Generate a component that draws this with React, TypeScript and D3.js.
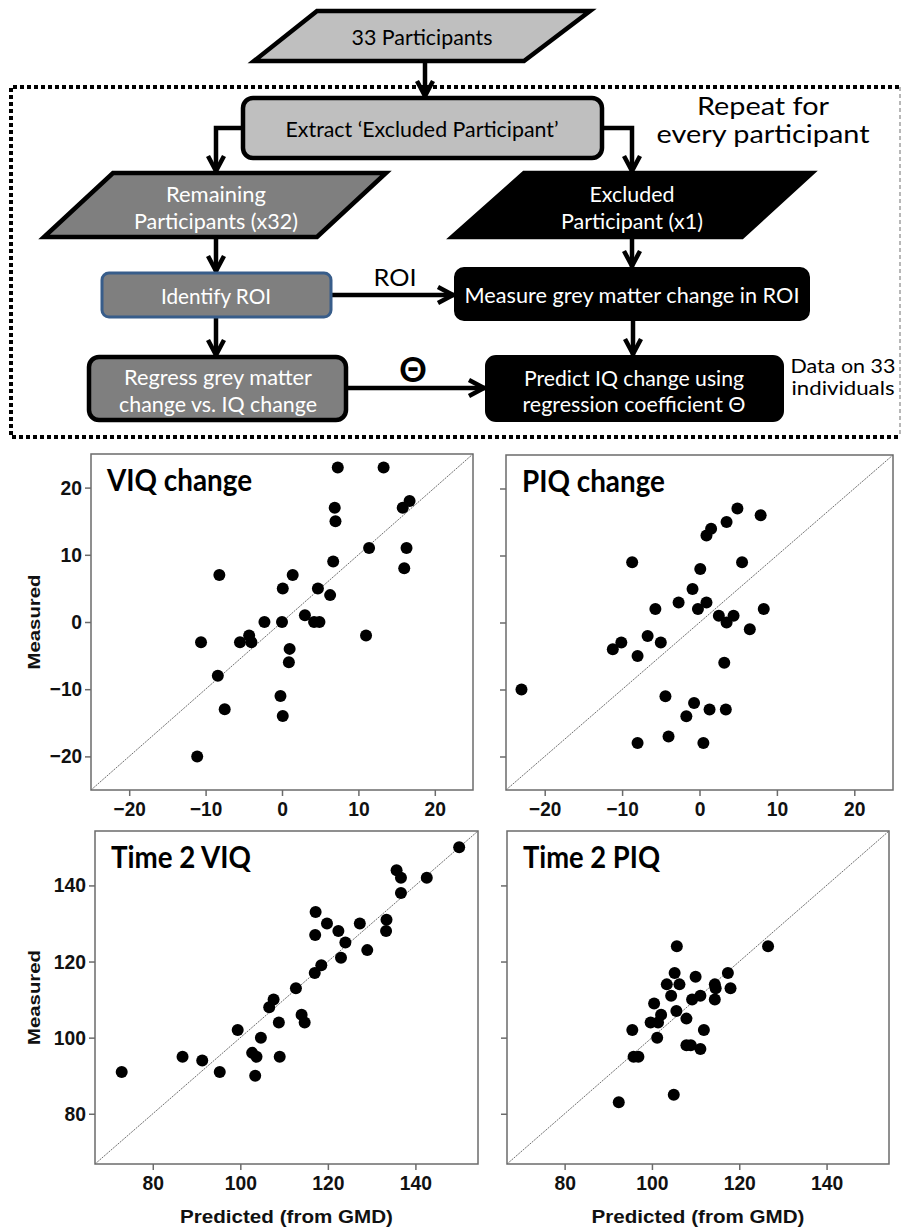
import React, { useEffect, useRef } from 'react';
import * as d3 from 'd3';

// ---- data (predicted from GMD vs measured) ----
const changeTicks = [-20, -10, 0, 10, 20];
const time2Ticks = [80, 100, 120, 140];

const viqChangePredicted = [7.3, 13.3, 6.9, 7.0, 15.8, 16.7, 11.4, 16.3, 16.0, 6.7, -8.2, 1.4, 0.1, 4.7, 6.3, 3.0, 4.2, 4.9, -2.3, 0.0, 11.0, -10.6, -5.5, -4.3, -4.0, 1.0, 0.9, -8.4, -0.2, -7.5, 0.1, -11.1];
const viqChangeMeasured = [23, 23, 17, 15, 17, 18, 11, 11, 8, 9, 7, 7, 5, 5, 4, 1, 0, 0, 0, 0, -2, -3, -3, -2, -3, -4, -6, -8, -11, -13, -14, -20];

const piqChangePredicted = [4.9, 7.9, 3.5, 1.5, 0.9, -8.7, 5.5, 0.1, -0.9, -2.7, 0.9, -0.2, -5.7, 8.3, 2.5, 4.4, 3.5, 6.5, -10.1, -11.2, -6.7, -5.0, -8.0, 3.2, -23.0, -4.4, -0.7, 1.3, 3.4, -1.7, -8.0, -4.0, 0.5];
const piqChangeMeasured = [17, 16, 15, 14, 13, 9, 9, 8, 5, 3, 3, 2, 2, 2, 1, 1, 0, -1, -3, -4, -2, -3, -5, -6, -10, -11, -12, -13, -13, -14, -18, -17, -18];

const viqTime2Predicted = [150.0, 135.7, 136.7, 142.6, 136.7, 117.2, 119.8, 127.3, 133.4, 122.4, 133.3, 117.1, 124.0, 129.0, 123.0, 118.5, 117.0, 112.7, 107.6, 106.6, 114.0, 114.7, 108.8, 99.4, 104.7, 102.7, 103.7, 109.0, 86.8, 91.3, 95.3, 72.9, 103.4];
const viqTime2Measured = [150, 144, 142, 142, 138, 133, 130, 130, 131, 128, 128, 127, 125, 123, 121, 119, 117, 113, 110, 108, 106, 104, 104, 102, 100, 96, 95, 95, 95, 94, 91, 91, 90];

const piqTime2Predicted = [105.7, 126.6, 105.2, 117.4, 110.0, 103.4, 106.3, 114.4, 114.6, 118.0, 104.4, 111.1, 109.2, 114.4, 100.5, 105.6, 102.1, 107.9, 99.7, 101.4, 95.5, 111.9, 101.2, 107.9, 108.9, 111.1, 95.8, 96.9, 105.0, 92.4];
const piqTime2Measured = [124, 124, 117, 117, 116, 114, 114, 114, 113, 113, 111, 111, 110, 110, 109, 107, 106, 105, 104, 104, 102, 102, 100, 98, 98, 97, 95, 95, 85, 83];

const FLOW_FONT = 'Lato, "Open Sans", sans-serif';
const AXIS_FONT = '"Liberation Sans", Arial, sans-serif';

const panels = [
    { title: 'VIQ change', titleLen: 145, predicted: viqChangePredicted, measured: viqChangeMeasured, domain: [-25, 25], ticks: changeTicks, left: 91, right: 473, top: 454, bottom: 790, yLabels: true, xTitle: false },
    { title: 'PIQ change', titleLen: 143, predicted: piqChangePredicted, measured: piqChangeMeasured, domain: [-25, 25], ticks: changeTicks, left: 506, right: 893, top: 455, bottom: 790, yLabels: false, xTitle: false },
    { title: 'Time 2 VIQ', titleLen: 140, predicted: viqTime2Predicted, measured: viqTime2Measured, domain: [66.8, 154.3], ticks: time2Ticks, left: 95, right: 478, top: 831, bottom: 1164, yLabels: true, xTitle: true },
    { title: 'Time 2 PIQ', titleLen: 137, predicted: piqTime2Predicted, measured: piqTime2Measured, domain: [66.8, 154.3], ticks: time2Ticks, left: 507, right: 889, top: 831, bottom: 1164, yLabels: false, xTitle: true },
];

function label(g, x, y, str, size, color, len) {
    const t = g.append('text')
        .attr('x', x)
        .attr('y', y)
        .attr('text-anchor', 'middle')
        .attr('dominant-baseline', 'central')
        .attr('font-family', FLOW_FONT)
        .attr('font-size', size)
        .attr('fill', color)
        .text(str);
    if (len) t.attr('textLength', len).attr('lengthAdjust', 'spacingAndGlyphs');
    return t;
}

// polyline ending in an open chevron head at the last point
function arrow(g, pts) {
    g.append('path')
        .attr('d', d3.line()(pts))
        .attr('fill', 'none')
        .attr('stroke', '#000')
        .attr('stroke-width', 4.5);
    const [x1, y1] = pts[pts.length - 2];
    const [x2, y2] = pts[pts.length - 1];
    const len = Math.hypot(x2 - x1, y2 - y1);
    const ux = (x2 - x1) / len, uy = (y2 - y1) / len;
    const back = 15, half = 8;
    const tipX = x2 - ux * 2, tipY = y2 - uy * 2;
    g.append('path')
        .attr('d', d3.line()([
            [tipX - ux * back - uy * half, tipY - uy * back + ux * half],
            [tipX, tipY],
            [tipX - ux * back + uy * half, tipY - uy * back - ux * half],
        ]))
        .attr('fill', 'none')
        .attr('stroke', '#000')
        .attr('stroke-width', 4.5)
        .attr('stroke-linejoin', 'miter');
}

function shape(g, pts, fill, stroke = '#000', width = 4.5) {
    g.append('path')
        .attr('d', d3.line()(pts) + 'Z')
        .attr('fill', fill)
        .attr('stroke', stroke)
        .attr('stroke-width', width)
        .attr('stroke-linejoin', 'miter');
}

function box(g, x0, y0, x1, y1, fill, stroke = '#000', width = 4.5, r = 10) {
    g.append('rect')
        .attr('x', x0).attr('y', y0)
        .attr('width', x1 - x0).attr('height', y1 - y0)
        .attr('rx', r).attr('ry', r)
        .attr('fill', fill)
        .attr('stroke', stroke)
        .attr('stroke-width', width);
}

function drawFlow(svg) {
    const g = svg.append('g');

    // dotted "repeat" frame: heavy dots on three sides, a faint dashed right edge
    g.append('path')
        .attr('d', 'M899,87 L11,87 L11,437 L899,437')
        .attr('fill', 'none')
        .attr('stroke', '#000')
        .attr('stroke-width', 4)
        .attr('stroke-dasharray', '4,3');
    g.append('line')
        .attr('x1', 900).attr('y1', 87).attr('x2', 900).attr('y2', 437)
        .attr('stroke', '#888')
        .attr('stroke-width', 1.2)
        .attr('stroke-dasharray', '4,3');

    // connectors
    arrow(g, [[425, 61], [425, 98]]);
    arrow(g, [[243, 128], [216, 128], [216, 173]]);
    arrow(g, [[602, 128], [632, 128], [632, 173]]);
    arrow(g, [[216, 237], [216, 273]]);
    arrow(g, [[632, 237], [632, 268]]);
    arrow(g, [[331, 295], [455, 295]]);
    arrow(g, [[216, 317], [216, 357]]);
    arrow(g, [[633, 320], [633, 356]]);
    arrow(g, [[346, 388], [486, 388]]);

    // boxes
    shape(g, [[317, 11], [590, 11], [524, 61], [254, 61]], '#bfbfbf');
    label(g, 422, 36, '33 Participants', 21, '#000', 141);

    box(g, 243, 98, 602, 158, '#bfbfbf');
    label(g, 422, 128, 'Extract \u2018Excluded Participant\u2019', 22, '#000', 273);

    label(g, 763, 105, 'Repeat for', 24.5, '#000', 132);
    label(g, 763, 133, 'every participant', 24.5, '#000', 213);

    shape(g, [[113, 173], [386, 173], [317, 237], [44, 237]], '#7f7f7f');
    label(g, 216, 193, 'Remaining', 21, '#fff', 100);
    label(g, 216, 220, 'Participants (x32)', 21, '#fff', 164);

    shape(g, [[524, 173], [812, 173], [742, 237], [452, 237]], '#000');
    label(g, 632, 193, 'Excluded', 21, '#fff', 85);
    label(g, 632, 220, 'Participant (x1)', 21, '#fff', 142);

    box(g, 102, 273, 331, 317, '#7f7f7f', '#385d8a', 3, 7);
    label(g, 216, 295, 'Identify ROI', 21, '#fff', 110);

    label(g, 395, 276, 'ROI', 24, '#000', 43);

    box(g, 455, 268, 809, 320, '#000', '#000', 2, 9);
    label(g, 632, 294, 'Measure grey matter change in ROI', 21, '#fff', 335);

    box(g, 89, 357, 346, 420, '#7f7f7f');
    label(g, 218, 376, 'Regress grey matter', 21, '#fff', 188);
    label(g, 218, 403, 'change vs. IQ change', 21, '#fff', 198);

    label(g, 413, 368, '\u0398', 34, '#000').attr('font-weight', 'bold');

    box(g, 486, 356, 783, 421, '#000', '#000', 2, 10);
    label(g, 634, 377, 'Predict IQ change using', 21, '#fff', 220);
    label(g, 634, 403, 'regression coefficient \u0398', 21, '#fff', 223);

    label(g, 843, 366, 'Data on 33', 18.5, '#000', 105);
    label(g, 843, 388, 'individuals', 18.5, '#000', 103);
}

// widths of Liberation Sans Bold glyphs used in tick labels (em)
const tickWidth = s => s.split('').reduce((w, c) => w + (c === '-' ? 0.333 : 0.556), 0);

function drawPanel(svg, p) {
    const x = d3.scaleLinear().domain(p.domain).range([p.left, p.right]);
    const y = d3.scaleLinear().domain(p.domain).range([p.bottom, p.top]);
    const g = svg.append('g');

    g.append('rect')
        .attr('x', p.left).attr('y', p.top)
        .attr('width', p.right - p.left).attr('height', p.bottom - p.top)
        .attr('fill', '#fff')
        .attr('stroke', '#6b6b6b')
        .attr('stroke-width', 1.5);

    // identity line
    g.append('line')
        .attr('x1', x(p.domain[0])).attr('y1', y(p.domain[0]))
        .attr('x2', x(p.domain[1])).attr('y2', y(p.domain[1]))
        .attr('stroke', '#6e6e6e')
        .attr('stroke-width', 1)
        .attr('stroke-dasharray', '2,1');

    const xAxis = d3.axisBottom(x).tickValues(p.ticks).tickSize(6).tickSizeOuter(0).tickPadding(5);
    const yAxis = d3.axisLeft(y).tickValues(p.ticks).tickSize(6).tickSizeOuter(0).tickPadding(3);
    if (!p.yLabels) yAxis.tickFormat(() => '');

    [
        g.append('g').attr('transform', `translate(0,${p.bottom})`).call(xAxis),
        g.append('g').attr('transform', `translate(${p.left},0)`).call(yAxis),
    ].forEach(ax => {
        ax.select('.domain').remove();
        ax.selectAll('line').attr('stroke', '#6b6b6b').attr('stroke-width', 1.5);
        ax.selectAll('text')
            .attr('font-family', AXIS_FONT)
            .attr('font-weight', 'bold')
            .attr('font-size', 20.5)
            .attr('fill', '#111')
            .each(function () {
                const s = d3.select(this).text();
                if (s) d3.select(this).attr('textLength', tickWidth(s) * 19.3).attr('lengthAdjust', 'spacingAndGlyphs');
            });
    });

    g.selectAll('.dot')
        .data(p.predicted.map((v, i) => ({ pred: v, meas: p.measured[i] })))
        .enter()
        .append('circle')
        .attr('class', 'dot')
        .attr('cx', d => x(d.pred))
        .attr('cy', d => y(d.meas))
        .attr('r', 6)
        .attr('fill', '#000');

    g.append('text')
        .attr('x', p.left + 16)
        .attr('y', p.top + 37)
        .attr('font-family', FLOW_FONT)
        .attr('font-weight', 'bold')
        .attr('font-size', 30)
        .attr('fill', '#000')
        .attr('textLength', p.titleLen)
        .attr('lengthAdjust', 'spacingAndGlyphs')
        .text(p.title);

    if (p.yLabels) {
        const cy = (p.top + p.bottom) / 2;
        g.append('text')
            .attr('transform', `translate(34,${cy}) rotate(-90)`)
            .attr('text-anchor', 'middle')
            .attr('dominant-baseline', 'central')
            .attr('font-family', AXIS_FONT)
            .attr('font-weight', 'bold')
            .attr('font-size', 17)
            .attr('fill', '#111')
            .attr('textLength', 95)
            .attr('lengthAdjust', 'spacingAndGlyphs')
            .text('Measured');
    }
    if (p.xTitle) {
        g.append('text')
            .attr('x', (p.left + p.right) / 2)
            .attr('y', 1223)
            .attr('text-anchor', 'middle')
            .attr('font-family', AXIS_FONT)
            .attr('font-weight', 'bold')
            .attr('font-size', 19)
            .attr('fill', '#111')
            .attr('textLength', 213)
            .attr('lengthAdjust', 'spacingAndGlyphs')
            .text('Predicted (from GMD)');
    }
}

const App = () => {
    const svgRef = useRef(null);

    useEffect(() => {
        const svg = d3.select(svgRef.current);
        svg.selectAll('*').remove();
        drawFlow(svg);
        panels.forEach(p => drawPanel(svg, p));
    }, []);

    return (
        <svg
            ref={svgRef}
            width={902}
            height={1229}
            style={{ position: 'absolute', left: 0, top: 0, background: '#fff' }}
        />
    );
};

export default App;
